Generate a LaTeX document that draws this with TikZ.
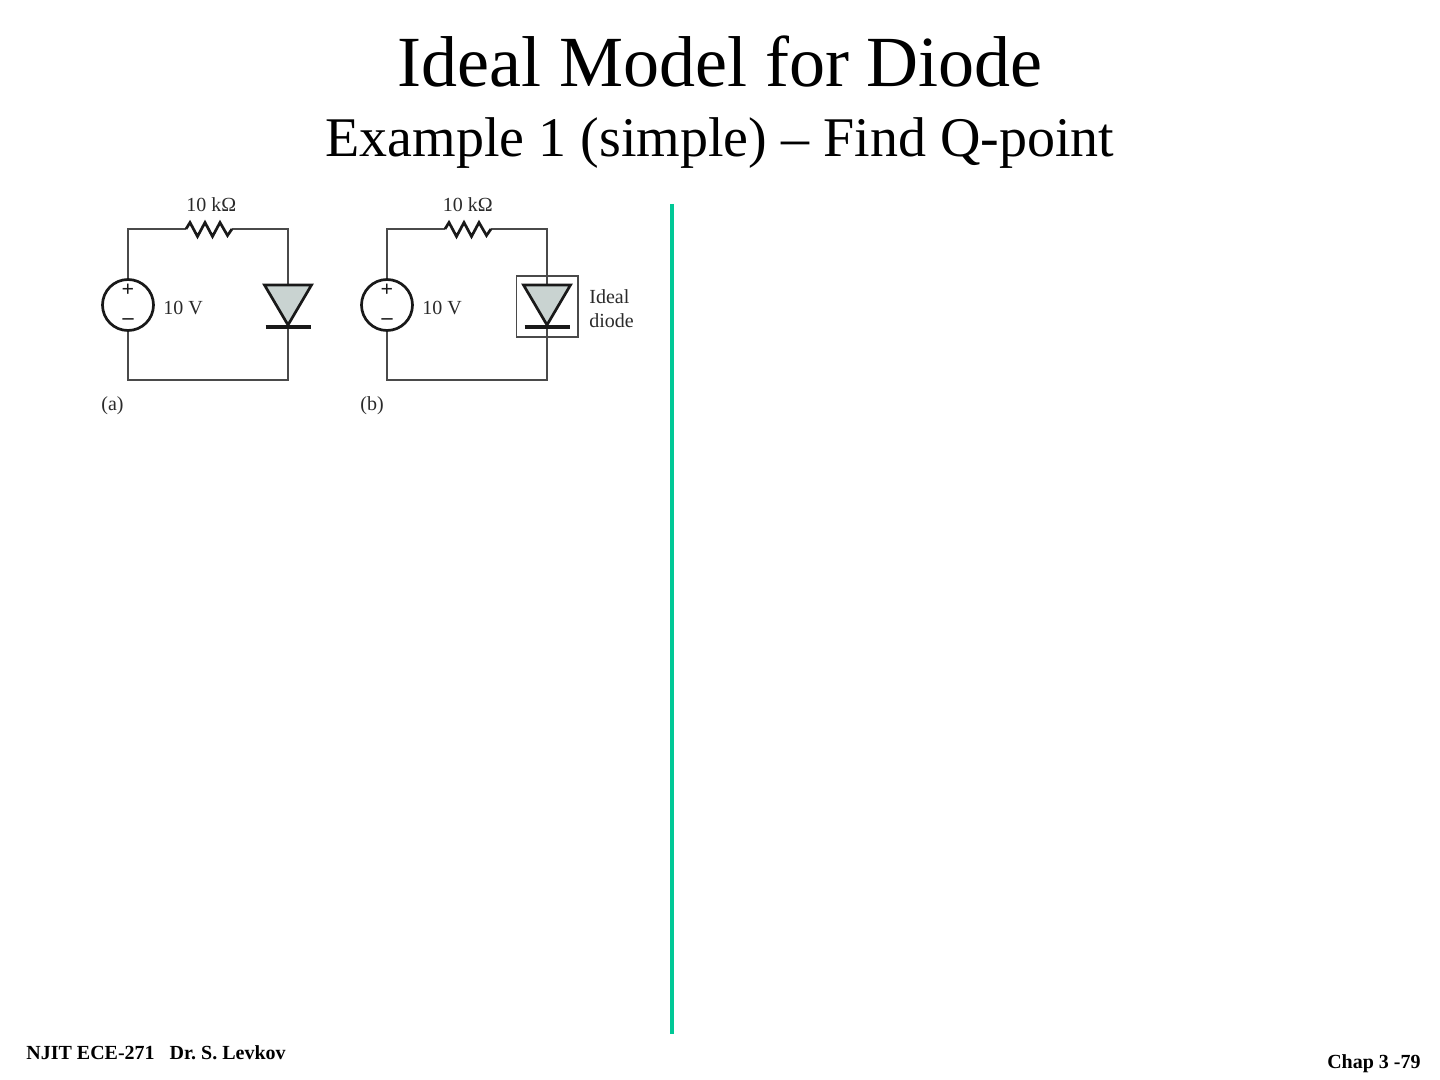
\documentclass[tikz,border=0pt]{standalone}
\usepackage{fontspec}
\setmainfont{Liberation Serif}
\frenchspacing
\definecolor{wirec}{HTML}{4A4A4A}
\definecolor{diodefill}{HTML}{C9D3D1}
\definecolor{barc}{HTML}{00C896}
\definecolor{labelc}{HTML}{2A2A2A}
\tikzset{
  wire/.style={draw=wirec,line width=0.8pt},
  heavy/.style={draw=black!90,line width=1.35pt,line join=miter},
  srcnode/.style={circle,draw=black!90,line width=1.35pt,minimum size=25.5pt,inner sep=0pt},
  lab/.style={text=labelc,font=\fontsize{10}{12}\selectfont,anchor=base west,inner sep=0pt},
  sign/.style={text=black!90,font=\bfseries\fontsize{11}{11}\selectfont,anchor=center,inner sep=0pt},
  dbar/.style={draw=black!90,line width=2pt},
  titletext/.style={anchor=base,inner sep=0pt},
  foot/.style={font=\bfseries\fontsize{10}{12}\selectfont,inner sep=0pt}
}
\newcommand{\circuitdraw}[2]{%
  \begin{scope}[shift={(#2,0)}]
    \node[srcnode] (#1src) at (128,305) {};
    \node[sign] (#1plus) at (128,290) {+};
    \node[sign] (#1minus) at (128,321.5) {–};
    \coordinate (#1rl) at (186,229);
    \coordinate (#1rr) at (232,229);
    \coordinate (#1top) at (288,285);
    \coordinate (#1apex) at (288,325);
    \coordinate (#1cat) at (288,327);
    \coordinate (#1corner) at (288,380);
    \draw[wire] (#1src.north) |- (#1rl);
    \draw[wire] (#1rr) -| (#1top);
    \draw[wire] (#1src.south) |- (#1corner) -- (#1cat);
    \draw[heavy] (#1rl) -- ++(4,-6.5) -- ++(7.5,14) -- ++(7.5,-14) -- ++(7.5,14) -- ++(7.5,-14) -- ++(7.5,13) -- (#1rr);
    \draw[heavy,fill=diodefill] (264.5,285) -- (311.5,285) -- (#1apex) -- cycle;
    \draw[dbar] (265.5,327) -- (#1cat) -- (311,327);
  \end{scope}}
\begin{document}
\begin{tikzpicture}[x=0.5pt,y=-0.5pt]
\useasboundingbox (0,0) rectangle (1440,1080);
\node[titletext,font=\fontsize{36}{40}\selectfont] (title) at (720,87) {Ideal Model for Diode};
\node[titletext,font=\fontsize{28}{32}\selectfont] (subtitle) at (720,157) {Example 1 (simple) – Find Q-point};
\circuitdraw{a}{0}
\circuitdraw{b}{259}
\draw[wire] (516.5,276) rectangle (578,337);
\node[lab] (ar) at (186,212) {10 kΩ};
\node[lab] (br) at (442.5,212) {10 kΩ};
\node[lab] (av) at (163,315) {10 V};
\node[lab] (bv) at (422,315) {10 V};
\node[lab] (ideal) at (589,304) {Ideal};
\node[lab] (diode) at (589,328) {diode};
\node[lab] (cap1) at (101,411) {(a)};
\node[lab] (cap2) at (360,411) {(b)};
\coordinate (gtop) at (672,204);
\coordinate (gbot) at (672,1034);
\draw[barc,line width=2pt] (gtop) -- (gbot);
\node[foot,anchor=base west] (f1) at (26,1059) {NJIT ECE-271\hspace{0.75em}Dr. S. Levkov};
\node[foot,anchor=base east] (f2) at (1421,1068) {Chap 3 -79};
\end{tikzpicture}
\end{document}
